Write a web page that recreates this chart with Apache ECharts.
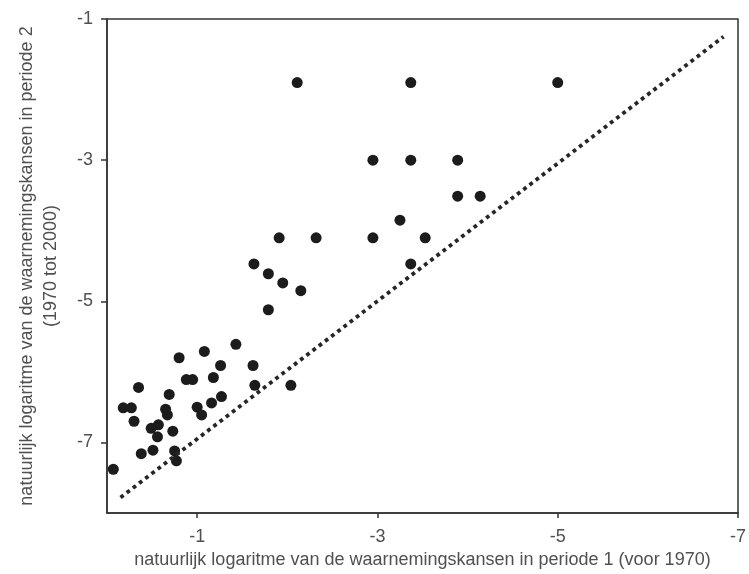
<!DOCTYPE html>
<html>
<head>
<meta charset="utf-8">
<script src="https://cdn.jsdelivr.net/npm/echarts@6/dist/echarts.min.js"></script>
<style>
html,body{margin:0;padding:0;background:#fff;}
#chart{width:749px;height:574px;}
</style>
</head>
<body>
<div id="chart"></div>
<script>
// Period 1 (x) and period 2 (y) log observation chances
const period1 = [
  -2.11, -3.37, -5.00, -2.95, -3.37, -3.89, -3.89, -4.14, -3.25,
  -1.91, -2.32, -2.95, -3.53, -3.37, -1.63, -1.79, -1.95, -2.15, -1.79,
  -1.43, -1.08, -0.80, -1.26, -1.62, -0.35, -0.88, -0.95, -1.18, -1.64,
  -2.04, -0.69, -1.27, -0.18, -0.27, -0.65, -1.00, -1.16, -0.67, -1.05,
  -0.30, -0.49, -0.57, -0.56, -0.73, -0.38, -0.51, -0.75, -0.77, -0.07
];
const period2 = [
  -1.90, -1.90, -1.90, -3.00, -3.00, -3.00, -3.51, -3.51, -3.85,
  -4.10, -4.10, -4.10, -4.10, -4.47, -4.47, -4.61, -4.74, -4.85, -5.12,
  -5.61, -5.71, -5.80, -5.91, -5.91, -6.22, -6.11, -6.11, -6.08, -6.19,
  -6.19, -6.32, -6.35, -6.51, -6.51, -6.53, -6.50, -6.44, -6.61, -6.61,
  -6.70, -6.80, -6.75, -6.92, -6.84, -7.16, -7.11, -7.12, -7.26, -7.38
];
const refLineX = [-0.15, -6.84];
const refLineY = [-7.78, -1.25];
const xTicks = [-1, -3, -5, -7];
const yTicks = [-1, -3, -5, -7];
const xName = 'natuurlijk logaritme van de waarnemingskansen in periode 1 (voor 1970)';
const yName = 'natuurlijk logaritme van de waarnemingskansen in periode 2\n(1970 tot 2000)';

const points = period1.map((x, i) => [x, period2[i]]);
const refLine = refLineX.map((x, i) => [x, refLineY[i]]);

const FONT = 'Liberation Sans';
const TXT = '#505050';
const AX = '#333';

const chart = echarts.init(document.getElementById('chart'), null, {renderer: 'canvas'});
chart.setOption({
  animation: false,
  backgroundColor: '#fff',
  grid: {left: 107, top: 19, right: 5, bottom: 59, show: true, borderColor: AX, borderWidth: 1.5, backgroundColor: 'transparent'},
  xAxis: {
    type: 'value', min: -7, max: 0, inverse: true,
    splitLine: {show: false},
    axisLine: {show: true, onZero: false, lineStyle: {color: AX, width: 1.5}},
    axisTick: {show: true, inside: false, length: 5, customValues: xTicks, lineStyle: {color: AX, width: 1.5}},
    axisLabel: {customValues: xTicks, color: TXT, fontFamily: FONT, fontSize: 18, margin: 15},
    name: xName, nameLocation: 'middle', nameGap: 38,
    nameTextStyle: {color: TXT, fontFamily: FONT, fontSize: 18}
  },
  yAxis: {
    type: 'value', min: -8, max: -1,
    splitLine: {show: false},
    axisLine: {show: true, onZero: false, lineStyle: {color: AX, width: 1.5}},
    axisTick: {show: true, inside: false, length: 6, customValues: yTicks, lineStyle: {color: AX, width: 1.5}},
    axisLabel: {customValues: yTicks, color: TXT, fontFamily: FONT, fontSize: 18, margin: 14},
    name: yName, nameLocation: 'middle', nameGap: 44, nameRotate: 90,
    nameTextStyle: {color: TXT, fontFamily: FONT, fontSize: 18, lineHeight: 24}
  },
  series: [
    {
      type: 'line', data: refLine, symbol: 'none', silent: true,
      lineStyle: {color: '#262626', width: 3.8, type: [3.8, 4.0], cap: 'butt'}
    },
    {
      type: 'scatter', data: points, symbol: 'circle', symbolSize: 11,
      itemStyle: {color: '#1c1c1c', opacity: 1}
    }
  ]
});
</script>
</body>
</html>
